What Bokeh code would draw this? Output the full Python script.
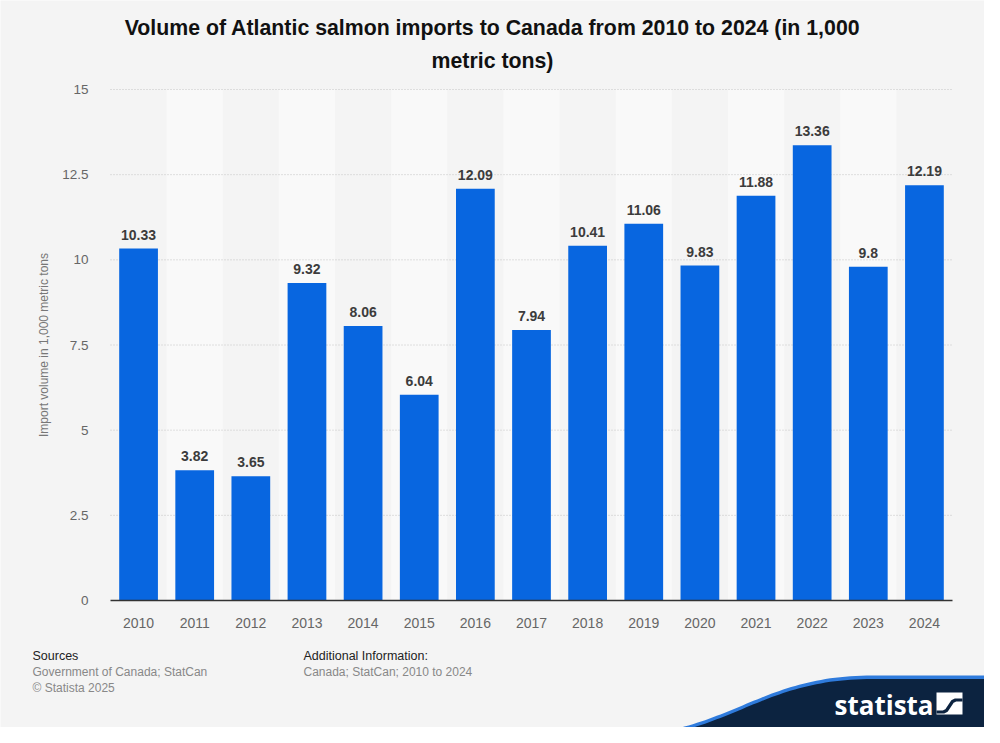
import numpy as np
from bokeh.plotting import figure
from bokeh.models import (Range1d, ColumnDataSource, LabelSet, LinearAxis,
                          FixedTicker)
from bokeh.core.properties import value
from bokeh.embed import file_html
from bokeh.resources import INLINE

years = ["2010", "2011", "2012", "2013", "2014", "2015", "2016", "2017",
         "2018", "2019", "2020", "2021", "2022", "2023", "2024"]
volumes = [10.33, 3.82, 3.65, 9.32, 8.06, 6.04, 12.09, 7.94,
           10.41, 11.06, 9.83, 11.88, 13.36, 9.8, 12.19]
value_labels = ["10.33", "3.82", "3.65", "9.32", "8.06", "6.04", "12.09", "7.94",
                "10.41", "11.06", "9.83", "11.88", "13.36", "9.8", "12.19"]
y_ticks = [0, 2.5, 5, 7.5, 10, 12.5, 15]
y_tick_labels = {0: "0", 2.5: "2.5", 5: "5", 7.5: "7.5", 10: "10", 12.5: "12.5", 15: "15"}

title_lines = ["Volume of Atlantic salmon imports to Canada from 2010 to 2024 (in 1,000",
               "metric tons)"]
y_label = "Import volume in 1,000 metric tons"

BG = "#f4f4f4"
BAND = "#f9f9f9"
BLUE = "#0866e0"
NAVY = "#0c2340"
FONT = "Liberation Sans"

W, H = 984, 727
# plot area in figure pixels
PL, PR, PT, PB = 110, 952, 89, 600
N = len(years)
XU = (PR - PL) / N          # px per category
YU = (PB - PT) / 15.0       # px per data unit

x_start = -0.5 - PL / XU
x_end = N - 0.5 + (W - PR) / XU
y_start = -(H - PB) / YU
y_end = 15 + PT / YU


def X(ref_x):
    return (ref_x - 8 - PL) / XU - 0.5


def Y(ref_y):
    return (PB - (ref_y - 8)) / YU


p = figure(width=W, height=H, x_range=Range1d(x_start, x_end),
           y_range=Range1d(y_start, y_end), output_backend="svg",
           toolbar_location=None, x_axis_location=None, y_axis_location=None,
           min_border=0)
p.background_fill_color = BG
p.border_fill_color = BG
p.outline_line_color = None
p.grid.visible = False

idx = list(range(N))

# alternating column bands
band_idx = [i for i in idx if i % 2 == 1]
p.vbar(x=band_idx, top=[15] * len(band_idx), bottom=0, width=1.0,
       fill_color=BAND, line_color=None)

# grid lines
grid_vals = y_ticks[1:]
p.segment(x0=[-0.5] * len(grid_vals), x1=[N - 0.5] * len(grid_vals),
          y0=grid_vals, y1=grid_vals, line_color="#c4c4c4", line_dash="1 2",
          line_width=1)

src = ColumnDataSource(dict(i=idx, vol=volumes, lab=value_labels))
p.vbar(x="i", top="vol", width=0.69, source=src, fill_color=BLUE, line_color=None)

labels = LabelSet(x="i", y="vol", text="lab", source=src, y_offset=9,
                  text_align="center", text_baseline="bottom",
                  text_font=value(FONT), text_font_size="14px",
                  text_font_style="bold", text_color="#3c3c3c")
p.add_layout(labels)

# y axis
yax = LinearAxis(fixed_location=-0.5, ticker=FixedTicker(ticks=y_ticks),
                 major_label_overrides=y_tick_labels, bounds=(0, 15))
yax.axis_line_color = None
yax.major_tick_line_color = None
yax.minor_tick_line_color = None
yax.major_label_standoff = 16
yax.major_label_text_font = FONT
yax.major_label_text_font_size = "13.5px"
yax.major_label_text_color = "#666666"
yax.axis_label = y_label
yax.axis_label_text_font = FONT
yax.axis_label_text_font_size = "12px"
yax.axis_label_text_font_style = "normal"
yax.axis_label_text_color = "#777777"
yax.axis_label_standoff = 8
p.add_layout(yax, "left")

# x axis
xax = LinearAxis(fixed_location=0, ticker=FixedTicker(ticks=idx),
                 major_label_overrides={i: y for i, y in zip(idx, years)},
                 bounds=(-0.5, N - 0.5))
xax.axis_line_color = "#333333"
xax.axis_line_width = 1.5
xax.major_tick_line_color = None
xax.minor_tick_line_color = None
xax.major_label_standoff = 11
xax.major_label_text_font = FONT
xax.major_label_text_font_size = "14px"
xax.major_label_text_color = "#666666"
p.add_layout(xax, "below")

# title
p.text(x=[X(500), X(500)], y=[Y(35), Y(68)], text=title_lines,
       text_font=value(FONT), text_font_size="21.3px",
       text_font_style="bold", text_color="#111111",
       text_align="center", text_baseline="middle")

# footer
p.text(x=[X(40), X(311)], y=[Y(663), Y(663)],
       text=["Sources", "Additional Information:"],
       text_font=value(FONT), text_font_size="12.5px", text_color="#222222",
       text_baseline="middle")
p.text(x=[X(40), X(40), X(311)], y=[Y(679), Y(695), Y(679)],
       text=["Government of Canada; StatCan", "\u00a9 Statista 2025",
             "Canada; StatCan; 2010 to 2024"],
       text_font=value(FONT), text_font_size="12px", text_color="#888888",
       text_baseline="middle")

# wave (Bezier)
t = np.linspace(0, 1, 60)
P = np.array([[620, 745], [740, 740], [765, 683], [880, 683]], dtype=float)
bx = ((1 - t) ** 3) * P[0, 0] + 3 * ((1 - t) ** 2) * t * P[1, 0] + 3 * (1 - t) * t ** 2 * P[2, 0] + t ** 3 * P[3, 0]
by = ((1 - t) ** 3) * P[0, 1] + 3 * ((1 - t) ** 2) * t * P[1, 1] + 3 * (1 - t) * t ** 2 * P[2, 1] + t ** 3 * P[3, 1]
wx = [X(v) for v in bx] + [X(1010), X(1010), X(620)]
wy_blue = [Y(v) for v in by] + [Y(683), Y(760), Y(760)]
wy_navy = [Y(v + 3.5) for v in by] + [Y(686.5), Y(760), Y(760)]
p.patch(wx, wy_blue, fill_color="#2f7bdc", line_color=None)
p.patch(wx, wy_navy, fill_color=NAVY, line_color=None)

p.text(x=[X(842)], y=[Y(712)], text=["statista"], text_font=value("Open Sans"),
       text_font_size="26px", text_font_style="bold", text_color="white",
       text_baseline="middle", text_align="left")
# logo icon
p.patch([X(944), X(970), X(970), X(944)], [Y(700), Y(700), Y(722), Y(722)],
        fill_color="white", line_color=None)
p.line([X(944), X(951), X(954), X(957), X(960), X(963), X(970)],
       [Y(719.5), Y(719.5), Y(718), Y(713.5), Y(709), Y(707.5), Y(707.5)],
       line_color=NAVY, line_width=3.2)

open("out.html", "w").write(file_html(p, INLINE))
